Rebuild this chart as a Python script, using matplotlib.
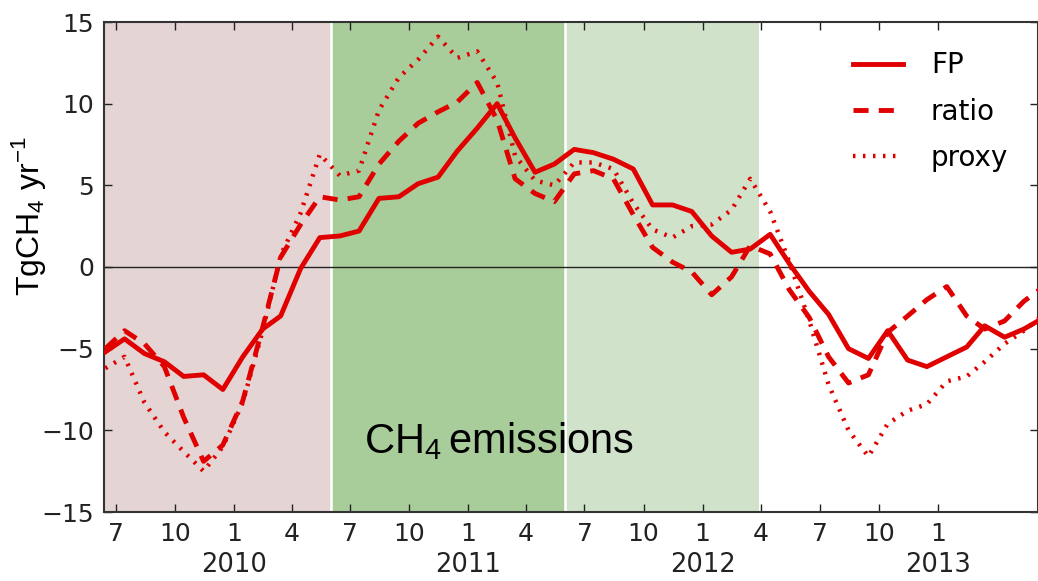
import numpy as np
import pandas as pd
import matplotlib
matplotlib.use("Agg")
import matplotlib.pyplot as plt
from matplotlib import font_manager

# monthly values, mid-month, Jun 2009 .. Jun 2013
months = pd.date_range("2009-06-01", periods=49, freq="MS") + pd.Timedelta(days=14)

fp = [-5.2, -4.4, -5.3, -5.8, -6.7, -6.6, -7.5, -5.5, -3.8, -3.0,
      -0.1, 1.8, 1.9, 2.2, 4.2, 4.3, 5.1, 5.5, 7.1, 8.5,
      10.0, 7.9, 5.8, 6.3, 7.2, 7.0, 6.6, 6.0, 3.8, 3.8,
      3.4, 1.9, 0.9, 1.1, 2.0, 0.2, -1.5, -2.9, -5.0, -5.6,
      -3.9, -5.7, -6.1, -5.5, -4.9, -3.6, -4.3, -3.8, -3.1]
ratio = [-5.0, -3.9, -4.7, -6.1, -9.2, -11.9, -10.9, -8.2, -3.7, 0.6,
         2.6, 4.3, 4.1, 4.3, 6.3, 7.7, 8.8, 9.5, 10.1, 11.3,
         9.0, 5.4, 4.5, 4.0, 5.7, 5.9, 5.4, 3.2, 1.2, 0.3,
         -0.3, -1.7, -0.6, 1.3, 0.8, -1.4, -3.1, -5.5, -7.1, -6.6,
         -4.0, -3.0, -2.0, -1.2, -3.0, -3.8, -3.3, -2.1, -1.2]
proxy = [-6.2, -5.5, -8.3, -10.1, -11.3, -12.5, -11.0, -8.3, -3.9, 0.7,
         3.3, 6.9, 5.6, 5.9, 9.6, 11.6, 12.7, 14.1, 12.8, 13.2,
         11.3, 6.8, 5.3, 5.0, 6.4, 6.4, 6.0, 3.9, 2.3, 1.8,
         2.5, 2.6, 3.5, 5.4, 3.4, 0.3, -3.3, -7.2, -10.0, -11.6,
         -9.6, -8.8, -8.4, -7.0, -6.7, -5.8, -4.7, -3.9, -2.9]

# shaded periods
band_edges = ["2009-06-01", "2010-06-01", "2011-06-01", "2012-03-28"]
band_colors = ["#e4d4d4", "#a9cc9b", "#d0e3ca"]

tick_dates = pd.date_range("2009-07-01", "2013-01-01", freq="3MS")
tick_labels = [str(d.month) for d in tick_dates]
year_dates = pd.to_datetime(["2010-01-01", "2011-01-01", "2012-01-01", "2013-01-01"])
year_labels = ["2010", "2011", "2012", "2013"]

red = "#e00000"

# narrow face for the y label if it is there
names = {f.name for f in font_manager.fontManager.ttflist}
if "Liberation Sans Narrow" in names:
    ylab_font, ylab_size = "Liberation Sans Narrow", 27
else:
    ylab_font, ylab_size = "Liberation Sans", 23

fig = plt.figure(figsize=(10.38, 5.81), dpi=100)
ax = fig.add_axes([104/1038, 1 - 512/581, 934/1038, 490/581])

edges = pd.to_datetime(band_edges)
for i in range(len(band_colors)):
    ax.axvspan(edges[i], edges[i+1], color=band_colors[i], lw=0, zorder=0)
for e in edges[1:3]:
    ax.axvline(e, color="white", lw=1.8, zorder=0.5)

ax.axhline(0, color="#222222", lw=1, zorder=1)

ax.plot(months, fp, color=red, lw=3.5, label="FP", zorder=3)
ax.plot(months, ratio, color=red, lw=3.5, dashes=(3.1, 2.1), label="ratio", zorder=3)
ax.plot(months, proxy, color=red, lw=3.2, dashes=(0.55, 1.7), label="proxy", zorder=3)

ax.set_xlim(pd.Timestamp("2009-06-13"), pd.Timestamp("2013-06-06"))
ax.set_ylim(-15, 15)
ax.set_yticks(np.arange(-15, 16, 5))

ax.xaxis.remove_overlapping_locs = False
ax.set_xticks(tick_dates, tick_labels)
ax.set_xticks(year_dates, year_labels, minor=True)

ax.tick_params(which="major", direction="in", length=6, width=1,
               top=True, right=True, labelsize=18, pad=7, colors="#222222")
ax.tick_params(axis="x", which="minor", length=0, pad=29, labelsize=18.5,
               colors="#222222")
for s in ax.spines.values():
    s.set_linewidth(1.5)
    s.set_color("#333333")

ax.set_ylabel(r"TgCH$_\mathregular{4}$ yr$^\mathregular{-1}$",
              fontfamily=ylab_font, fontsize=ylab_size)
ax.yaxis.set_label_coords(-0.06, 0.604)

ax.text(pd.Timestamp("2010-07-23"), -11.4, r"CH$_\mathregular{4}\,$emissions",
        fontfamily="Liberation Sans", fontsize=30, ha="left", va="baseline")

leg = ax.legend(loc="upper left", bbox_to_anchor=(0.802, 0.94), frameon=False,
                fontsize=20, handlelength=1.8, handletextpad=1.0,
                labelspacing=0.66, borderpad=0, borderaxespad=0)

fig.savefig("out.png", dpi=100)
